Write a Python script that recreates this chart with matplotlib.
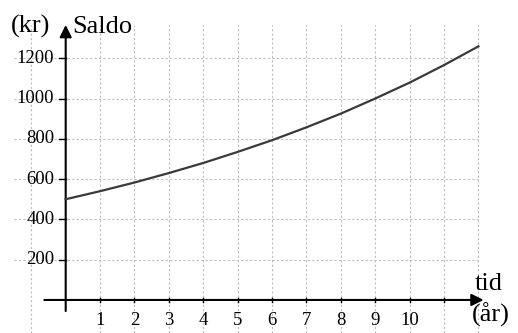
import matplotlib
matplotlib.use("Agg")
import matplotlib.pyplot as plt
import numpy as np

# Data (saldo in kr per year)
years = [0, 1, 2, 3, 4, 5, 6, 7, 8, 9, 10, 11, 12]
saldo = [500, 540, 583, 630, 680, 735, 793, 857, 925, 1000, 1079, 1166, 1259]
x_ticks = [1, 2, 3, 4, 5, 6, 7, 8, 9, 10, 11]
x_tick_labels = ["1", "2", "3", "4", "5", "6", "7", "8", "9", "10", ""]
y_ticks = [200, 400, 600, 800, 1000, 1200]
y_tick_labels = ["200", "400", "600", "800", "1000", "1200"]
grid_x = [-1, 1, 2, 3, 4, 5, 6, 7, 8, 9, 10, 11, 12]

plt.rcParams['font.family'] = ['Liberation Serif', 'DejaVu Serif']

fig = plt.figure(figsize=(5.18, 3.33), dpi=100)
ax = fig.add_axes([0, 0, 1, 1])
ax.set_xlim(-1.91, 13.15)
ax.set_ylim(-164, 1489)
ax.axis('off')

grid_kw = dict(color='#bdbdbd', lw=0.8, linestyles=(0, (2, 2)), zorder=1)
ax.vlines(grid_x, -164, 1365, **grid_kw)
ax.hlines(y_ticks, -1.5, 12, **grid_kw)

# axes with arrows
ax.annotate('', xy=(12.15, 0), xytext=(-0.62, 0),
            arrowprops=dict(arrowstyle='-|>', color='black', lw=1.5,
                            mutation_scale=18, shrinkA=0, shrinkB=0), zorder=3)
ax.annotate('', xy=(0, 1365), xytext=(0, -55),
            arrowprops=dict(arrowstyle='-|>', color='black', lw=1.5,
                            mutation_scale=18, shrinkA=0, shrinkB=0), zorder=3)

# ticks
for t in x_ticks:
    ax.plot([t, t], [-12, 12], color='black', lw=1.0, zorder=3)
for t in y_ticks:
    ax.plot([-0.2, 0], [t, t], color='black', lw=1.0, zorder=3)

for t, lab in zip(x_ticks, x_tick_labels):
    ax.text(t, -124, lab, ha='center', va='baseline', fontsize=13.5)
for t, lab in zip(y_ticks, y_tick_labels):
    ax.text(-0.33, t, lab, ha='right', va='center', fontsize=13.5)

ax.plot(years, saldo, color='#3a3a3a', lw=1.6, zorder=4)

ax.text(-1.6, 1325, '(kr)', ha='left', va='baseline', fontsize=19)
ax.text(0.18, 1325, 'Saldo', ha='left', va='baseline', fontsize=19)
ax.text(12.71, 50, 'tid', ha='right', va='baseline', fontsize=19)
ax.text(11.81, -109, '(år)', ha='left', va='baseline', fontsize=19)

fig.savefig('out.png', dpi=100)
